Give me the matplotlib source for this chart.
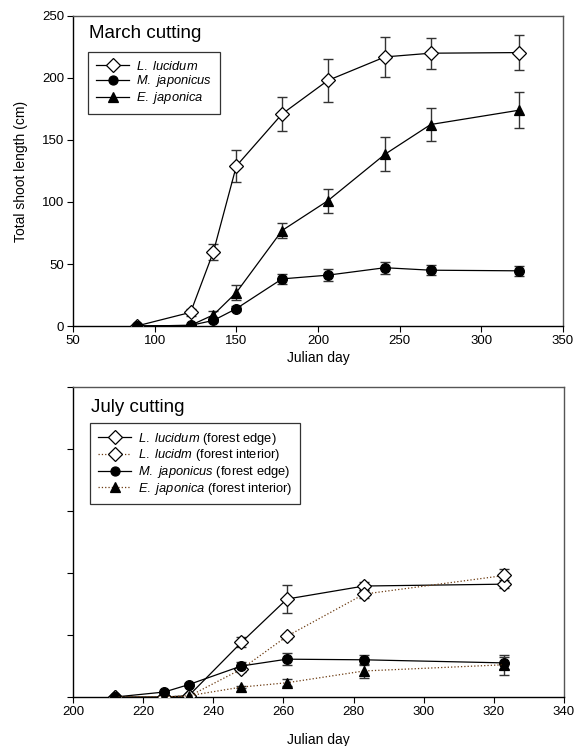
import matplotlib
matplotlib.use("Agg")
import matplotlib.pyplot as plt
from matplotlib.lines import Line2D

plt.rcParams['font.family'] = ['Liberation Sans', 'DejaVu Sans']
plt.rcParams['mathtext.fontset'] = 'custom'
plt.rcParams['mathtext.it'] = 'Liberation Sans:italic'
plt.rcParams['mathtext.rm'] = 'Liberation Sans'

# ---- March cutting data ----
mar_days = [89, 122, 136, 150, 178, 206, 241, 269, 323]
mar_lluc = [0, 11, 60, 129, 171, 198, 217, 220, 220.5]
mar_lluc_err = [0, 3, 6.5, 13, 14, 17, 16, 12.5, 14]
mar_mjap = [0, 0.5, 4.5, 14, 38, 41, 47, 45, 44.5]
mar_mjap_err = [0, 0, 1, 2, 4.3, 5, 5, 4, 4]
mar_ejap = [0, 0.5, 9, 27, 77, 101, 138.5, 162.5, 174]
mar_ejap_err = [0, 0, 3, 6, 6, 9.7, 13.7, 13, 14.5]

# ---- July cutting data ----
jul_days = [212, 226, 233, 248, 261, 283, 323]
jul_lluc_edge = [0, 0, 1, 44, 79, 89.5, 91]
jul_lluc_edge_err = [0, 0, 0, 4, 11, 3, 3]
jul_lluc_int = [0, 0, 0.5, 22.5, 49, 83, 98]
jul_lluc_int_err = [0, 0, 0, 2, 2, 3, 5]
jul_mjap_edge = [0, 4, 10, 25, 30.5, 30, 27.5]
jul_mjap_edge_err = [0, 0, 1, 3, 5, 4, 5]
jul_ejap_int = [0, 0, 1, 8, 11.5, 21, 26]
jul_ejap_int_err = [0, 0, 0, 1, 3, 6, 8]

mar_ticks = [50, 100, 150, 200, 250, 300, 350]
jul_ticks = [200, 220, 240, 260, 280, 300, 320, 340]
y_ticks = [0, 50, 100, 150, 200, 250]

W, H = 576, 746
fig = plt.figure(figsize=(W / 100, H / 100), dpi=100)

def px_axes(l, t, r, b):
    return fig.add_axes([l / W, 1 - b / H, (r - l) / W, (b - t) / H])

ax1 = px_axes(73, 16, 563, 326)
ax2 = px_axes(73, 387, 564, 697)

dot_col = '#6b3a10'
err_col = '#333333'
tfs = 9.5
lfs = 10
legfs = 9.3
titlefs = 13.5
MS = {'D': 7.5, 'o': 7, '^': 7}

def series(ax, x, y, e, marker, mfc, ls, lc):
    ax.errorbar(x, y, yerr=e, fmt='none', ecolor=err_col, elinewidth=1,
                capsize=3.8, capthick=1, zorder=2)
    ax.plot(x, y, linestyle=ls, color=lc, linewidth=0.9, marker=marker,
            markerfacecolor=mfc, markeredgecolor='black', markeredgewidth=0.9,
            markersize=MS[marker], zorder=3)

series(ax1, mar_days, mar_lluc, mar_lluc_err, 'D', 'white', '-', 'black')
series(ax1, mar_days, mar_mjap, mar_mjap_err, 'o', 'black', '-', 'black')
series(ax1, mar_days, mar_ejap, mar_ejap_err, '^', 'black', '-', 'black')

series(ax2, jul_days, jul_lluc_edge, jul_lluc_edge_err, 'D', 'white', '-', 'black')
series(ax2, jul_days, jul_lluc_int, jul_lluc_int_err, 'D', 'white', ':', dot_col)
series(ax2, jul_days, jul_mjap_edge, jul_mjap_edge_err, 'o', 'black', '-', 'black')
series(ax2, jul_days, jul_ejap_int, jul_ejap_int_err, '^', 'black', ':', dot_col)

for ax in (ax1, ax2):
    ax.set_ylim(0, 250)
    ax.set_yticks(y_ticks)
    ax.tick_params(direction='out', length=4.5, width=0.8, labelsize=tfs, pad=2,
                   top=False, right=False)
    for s in ('left', 'bottom'):
        ax.spines[s].set_color('black')
        ax.spines[s].set_linewidth(1)
    for s in ('top', 'right'):
        ax.spines[s].set_color('#555555')
        ax.spines[s].set_linewidth(1)

ax1.set_xlim(50, 350)
ax1.set_xticks(mar_ticks)
ax1.set_xlabel('Julian day', fontsize=lfs, labelpad=3)
ax1.set_ylabel('Total shoot length (cm)', fontsize=lfs, labelpad=10)

ax2.set_xlim(200, 340)
ax2.set_xticks(jul_ticks)
ax2.set_yticklabels([])
ax2.set_xlabel('Julian day', fontsize=lfs, labelpad=11)

def figtext(x, y, s, **kw):
    fig.text(x / W, 1 - y / H, s, **kw)

figtext(89, 33, 'March cutting', fontsize=titlefs, va='center')
figtext(91, 407, 'July cutting', fontsize=titlefs, va='center')

def h(marker, mfc, ls, lc):
    return Line2D([], [], linestyle=ls, color=lc, linewidth=0.9, marker=marker,
                  markerfacecolor=mfc, markeredgecolor='black',
                  markeredgewidth=0.9, markersize=MS[marker] - 0.5)

leg_kw = dict(loc='upper left', bbox_transform=fig.transFigure, borderaxespad=0,
              fontsize=legfs, handlelength=2.6, labelspacing=0.05,
              handletextpad=0.5, borderpad=0.6, fancybox=False,
              frameon=True, edgecolor='black')

leg1 = ax1.legend([h('D', 'white', '-', 'black'), h('o', 'black', '-', 'black'),
                   h('^', 'black', '-', 'black')],
                  [r'$\it{L.\ lucidum}$', r'$\it{M.\ japonicus}$', r'$\it{E.\ japonica}$'],
                  bbox_to_anchor=(88 / W, 1 - 52 / H), **leg_kw)
leg1.get_frame().set_linewidth(0.9)

leg2 = ax2.legend([h('D', 'white', '-', 'black'), h('D', 'white', ':', dot_col),
                   h('o', 'black', '-', 'black'), h('^', 'black', ':', dot_col)],
                  [r'$\it{L.\ lucidum}$ (forest edge)', r'$\it{L.\ lucidm}$ (forest interior)',
                   r'$\it{M.\ japonicus}$ (forest edge)', r'$\it{E.\ japonica}$ (forest interior)'],
                  bbox_to_anchor=(90 / W, 1 - 423 / H), **leg_kw)
leg2.get_frame().set_linewidth(0.9)

fig.savefig('out.png', dpi=100)
